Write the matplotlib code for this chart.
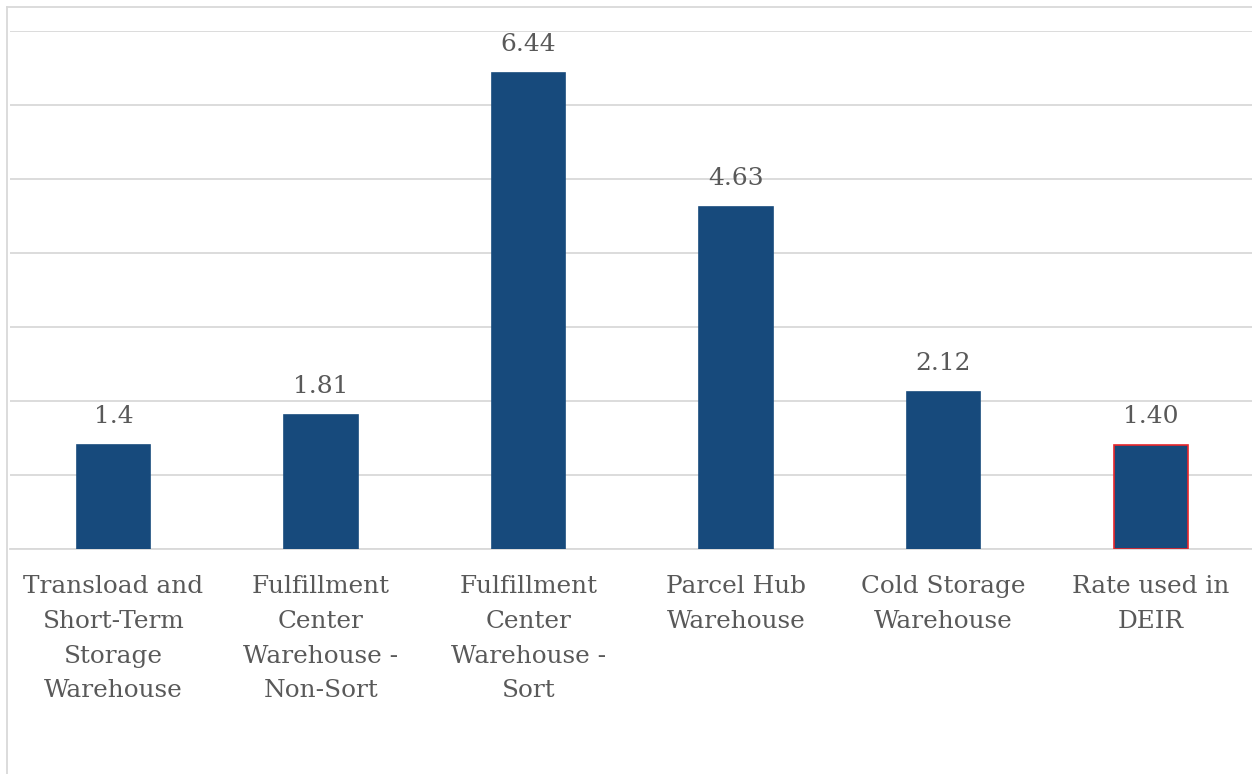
import matplotlib
matplotlib.use('Agg')
import matplotlib.pyplot as plt
from matplotlib.lines import Line2D

categories = ['Transload and\nShort-Term\nStorage\nWarehouse',
              'Fulfillment\nCenter\nWarehouse -\nNon-Sort',
              'Fulfillment\nCenter\nWarehouse -\nSort',
              'Parcel Hub\nWarehouse',
              'Cold Storage\nWarehouse',
              'Rate used in\nDEIR']
values = [1.4, 1.81, 6.44, 4.63, 2.12, 1.40]
value_labels = ['1.4', '1.81', '6.44', '4.63', '2.12', '1.40']

plt.rcParams['font.family'] = ['DejaVu Serif']
bar_color = '#174a7c'
text_color = '#595959'

fig = plt.figure(figsize=(12.52, 7.74), dpi=100)
W, H = 1252, 774
ax = fig.add_axes([9.75 / W, 225 / H, 1245 / W, 518 / H])

x = list(range(len(values)))
edges = [bar_color] * (len(values) - 1) + ['#e8262b']
bars = ax.bar(x, values, width=0.355, color=bar_color, edgecolor=edges, linewidth=1.2, zorder=3)
for b, lab in zip(bars, value_labels):
  ax.text(b.get_x() + b.get_width() / 2, b.get_height() + 0.23, lab, ha='center', va='bottom',
          fontsize=18, color=text_color)

ax.set_xlim(-0.5, len(values) - 0.5)
ax.set_ylim(0, 7.005)
ax.set_yticks(range(8))
ax.yaxis.grid(True, color='#d9d9d9', linewidth=1.3, zorder=0)
ax.set_yticklabels([])
ax.tick_params(axis='y', length=0)
ax.tick_params(axis='x', length=0, pad=19)
ax.set_xticks(x)
ax.set_xticklabels(categories, fontsize=17.8, color=text_color, linespacing=1.65, va='top')
for s in ['top', 'right', 'left']:
  ax.spines[s].set_visible(False)
ax.spines['bottom'].set_color('#d9d9d9')
ax.spines['bottom'].set_linewidth(1.3)

# chart area border
fig.add_artist(Line2D([7 / W, 7 / W], [0, 1 - 7 / H], color='#d9d9d9', linewidth=1.3))
fig.add_artist(Line2D([7 / W, 1], [1 - 7 / H, 1 - 7 / H], color='#d9d9d9', linewidth=1.3))

fig.savefig('out.png', dpi=100)
